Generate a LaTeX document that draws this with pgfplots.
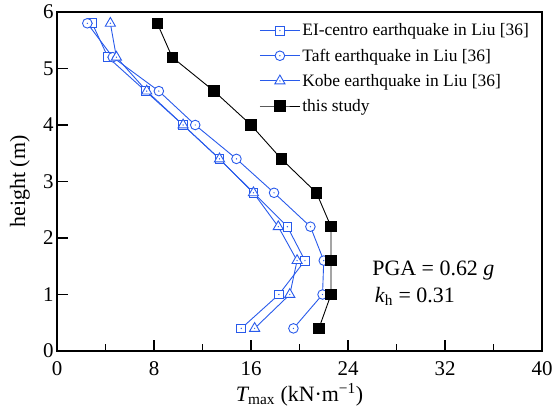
\documentclass[border=0pt]{standalone}
\usepackage{pgfplots}
\pgfplotsset{compat=1.18}
\usepackage{fontspec}
\setmainfont{Liberation Serif}
\definecolor{myblue}{RGB}{40,90,235}
\pgfdeclareplotmark{sqdot}{%
  \pgfpathrectangle{\pgfpoint{-\pgfplotmarksize}{-\pgfplotmarksize}}{\pgfpoint{2\pgfplotmarksize}{2\pgfplotmarksize}}%
  \pgfusepathqfillstroke
  \begin{pgfscope}\pgfsetfillcolor{myblue}\pgfpathcircle{\pgfpointorigin}{0.7pt}\pgfusepathqfill\end{pgfscope}}
\pgfdeclareplotmark{cirdot}{%
  \pgfpathcircle{\pgfpointorigin}{\pgfplotmarksize}%
  \pgfusepathqfillstroke
  \begin{pgfscope}\pgfsetfillcolor{myblue}\pgfpathcircle{\pgfpointorigin}{0.7pt}\pgfusepathqfill\end{pgfscope}}
\pgfdeclareplotmark{tridot}{%
  \pgfpathmoveto{\pgfpoint{0pt}{1.3\pgfplotmarksize}}%
  \pgfpathlineto{\pgfpointpolar{-30}{1.3\pgfplotmarksize}}%
  \pgfpathlineto{\pgfpointpolar{210}{1.3\pgfplotmarksize}}%
  \pgfpathclose
  \pgfusepathqfillstroke
  \begin{pgfscope}\pgfsetfillcolor{myblue}\pgfpathcircle{\pgfpointorigin}{0.7pt}\pgfusepathqfill\end{pgfscope}}
\begin{document}
\begin{tikzpicture}
\begin{axis}[
  name=ax,
  scale only axis,
  width=485bp, height=339bp,
  xmin=0, xmax=40, ymin=0, ymax=6,
  xtick={0,8,...,40}, minor x tick num=1,
  ytick={0,1,...,6},
  xtick pos=bottom, ytick pos=left,
  tick align=inside,
  major tick length=11bp, minor tick length=7bp,
  axis line style={line width=1.1pt},
  every tick/.style={line width=1.1pt, black},
  /pgf/number format/assume math mode=true,
  ticklabel style={font=\rmfamily\fontsize{21}{24}\selectfont},
  xticklabel style={yshift=-7bp},
  xlabel={{\itshape T}\textsubscript{max} (kN·m\textsuperscript{−1})},
  ylabel={height (m)},
  label style={font=\rmfamily\fontsize{22}{26}\selectfont},
  xlabel style={at={(axis description cs:0.5,-0.129)}, anchor=center},
  ylabel style={at={(axis description cs:-0.0763,0.5)}, anchor=center},
  legend style={draw=none, fill=none, at={(axis cs:39.1,5.83)}, anchor=north east,
    font=\rmfamily\fontsize{17.5}{21}\selectfont, row sep=7.5bp, inner sep=0bp},
  legend cell align=left,
  legend image code/.code={\draw[mark repeat=2, mark phase=2] plot coordinates {(0bp,0bp) (20bp,0bp) (40bp,0bp)};},
]
\addplot[myblue, line width=0.9pt, mark=sqdot, mark size=4.4bp, mark options={fill=white, solid}] coordinates {
(15.2,0.4) (18.3,1.0) (20.45,1.6) (19.0,2.2) (16.2,2.8) (13.4,3.4) (10.4,4.0) (7.3,4.6) (4.2,5.2) (2.9,5.8)};
\addlegendentry{EI-centro earthquake in Liu [36]}
\addplot[myblue, line width=0.9pt, mark=cirdot, mark size=4.8bp, mark options={fill=white, solid}] coordinates {
(19.5,0.4) (21.9,1.0) (22.0,1.6) (20.9,2.2) (17.9,2.8) (14.8,3.4) (11.4,4.0) (8.4,4.6) (4.6,5.2) (2.5,5.8)};
\addlegendentry{Taft earthquake in Liu [36]}
\addplot[myblue, line width=0.9pt, mark=tridot, mark size=4.5bp, mark options={fill=white, solid}] coordinates {
(16.3,0.4) (19.2,1.0) (19.8,1.6) (18.25,2.2) (16.2,2.8) (13.4,3.4) (10.4,4.0) (7.4,4.6) (4.9,5.2) (4.4,5.8)};
\addlegendentry{Kobe earthquake in Liu [36]}
\addplot[black, line width=0.9pt, mark=square*, mark size=5.2bp] coordinates {
(21.6,0.4) (22.6,1.0) (22.6,1.6) (22.6,2.2) (21.4,2.8) (18.5,3.4) (16.0,4.0) (12.95,4.6) (9.5,5.2) (8.27,5.8)};
\addlegendentry{this study}
\node[anchor=west, inner sep=0pt, font=\rmfamily\fontsize{22}{26}\selectfont] at (axis cs:26.0,1.42) {PGA = 0.62 \textit{g}};
\node[anchor=west, inner sep=0pt, font=\rmfamily\fontsize{22}{26}\selectfont] at (axis cs:26.2,0.97) {\textit{k}\textsubscript{h} = 0.31};
\end{axis}
\pgfresetboundingbox
\path ([shift={(-57bp,-58bp)}]ax.south west) rectangle ([shift={(11bp,12bp)}]ax.north east);
\end{tikzpicture}
\end{document}
